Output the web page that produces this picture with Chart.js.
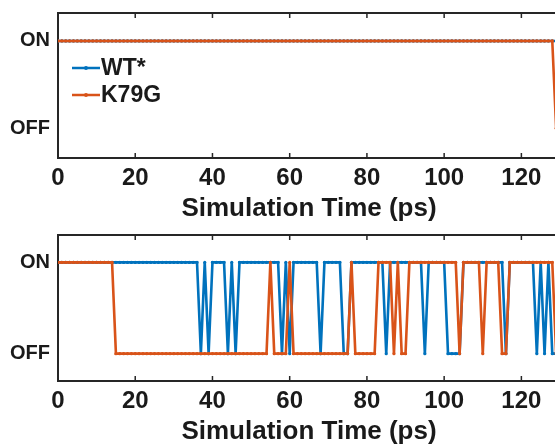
<!DOCTYPE html>
<html>
<head>
<meta charset="utf-8">
<script src="https://cdn.jsdelivr.net/npm/chart.js@4"></script>
<style>
  html, body { margin: 0; padding: 0; background: #fff; overflow: hidden; }
  #wrap { position: relative; width: 570px; height: 447px; }
  canvas { display: block; }
</style>
</head>
<body>
<div id="wrap">
  <canvas id="topChart" width="570" height="224"></canvas>
  <canvas id="bottomChart" width="570" height="223"></canvas>
</div>
<script>
// sample times (ps), one frame per ps
const timePs = Array.from({ length: 130 }, (_, i) => i);
const timeTicks = [0, 20, 40, 60, 80, 100, 120];

// state: 1 = ON, 0 = OFF
const stateTicks = [0, 1];
const stateLabels = ['OFF', 'ON'];

// top panel
const wtTop = [
  1, 1, 1, 1, 1, 1, 1, 1, 1, 1,
  1, 1, 1, 1, 1, 1, 1, 1, 1, 1,
  1, 1, 1, 1, 1, 1, 1, 1, 1, 1,
  1, 1, 1, 1, 1, 1, 1, 1, 1, 1,
  1, 1, 1, 1, 1, 1, 1, 1, 1, 1,
  1, 1, 1, 1, 1, 1, 1, 1, 1, 1,
  1, 1, 1, 1, 1, 1, 1, 1, 1, 1,
  1, 1, 1, 1, 1, 1, 1, 1, 1, 1,
  1, 1, 1, 1, 1, 1, 1, 1, 1, 1,
  1, 1, 1, 1, 1, 1, 1, 1, 1, 1,
  1, 1, 1, 1, 1, 1, 1, 1, 1, 1,
  1, 1, 1, 1, 1, 1, 1, 1, 1, 1,
  1, 1, 1, 1, 1, 1, 1, 1, 1, 1
];
const k79gTop = [
  1, 1, 1, 1, 1, 1, 1, 1, 1, 1,
  1, 1, 1, 1, 1, 1, 1, 1, 1, 1,
  1, 1, 1, 1, 1, 1, 1, 1, 1, 1,
  1, 1, 1, 1, 1, 1, 1, 1, 1, 1,
  1, 1, 1, 1, 1, 1, 1, 1, 1, 1,
  1, 1, 1, 1, 1, 1, 1, 1, 1, 1,
  1, 1, 1, 1, 1, 1, 1, 1, 1, 1,
  1, 1, 1, 1, 1, 1, 1, 1, 1, 1,
  1, 1, 1, 1, 1, 1, 1, 1, 1, 1,
  1, 1, 1, 1, 1, 1, 1, 1, 1, 1,
  1, 1, 1, 1, 1, 1, 1, 1, 1, 1,
  1, 1, 1, 1, 1, 1, 1, 1, 1, 1,
  1, 1, 1, 1, 1, 1, 1, 1, 1, 0
];

// bottom panel
const wtBottom = [
  1, 1, 1, 1, 1, 1, 1, 1, 1, 1,
  1, 1, 1, 1, 1, 1, 1, 1, 1, 1,
  1, 1, 1, 1, 1, 1, 1, 1, 1, 1,
  1, 1, 1, 1, 1, 1, 1, 0, 1, 0,
  1, 1, 1, 1, 0, 1, 0, 1, 1, 1,
  1, 1, 1, 1, 1, 1, 1, 1, 0, 1,
  0, 1, 1, 1, 1, 1, 1, 1, 0, 1,
  1, 1, 1, 1, 0, 0, 1, 1, 1, 1,
  1, 1, 1, 1, 1, 0, 1, 1, 1, 1,
  1, 1, 1, 1, 1, 0, 1, 1, 1, 1,
  1, 0, 0, 0, 0, 1, 1, 1, 1, 1,
  1, 1, 1, 1, 1, 1, 0, 1, 1, 1,
  1, 1, 1, 1, 0, 1, 0, 1, 0, 0
];
const k79gBottom = [
  1, 1, 1, 1, 1, 1, 1, 1, 1, 1,
  1, 1, 1, 1, 1, 0, 0, 0, 0, 0,
  0, 0, 0, 0, 0, 0, 0, 0, 0, 0,
  0, 0, 0, 0, 0, 0, 0, 0, 0, 0,
  0, 0, 0, 0, 0, 0, 0, 0, 0, 0,
  0, 0, 0, 0, 0, 1, 0, 0, 0, 0,
  1, 0, 0, 0, 0, 0, 0, 0, 0, 0,
  0, 0, 0, 0, 0, 0, 1, 0, 0, 0,
  0, 0, 0, 1, 1, 1, 1, 0, 1, 0,
  0, 1, 1, 1, 1, 1, 1, 1, 1, 1,
  1, 1, 1, 1, 0, 1, 1, 1, 1, 1,
  0, 1, 1, 1, 1, 0, 0, 1, 1, 1,
  1, 1, 1, 1, 1, 1, 1, 1, 1, 0
];

const BLUE = '#0072BD';
const ORANGE = '#D95319';
const AXIS = '#262626';
const TEXT = '#1a1a1a';
const FONT = "Arial, 'Liberation Sans', sans-serif";

// MATLAB style ticks pointing into the plot box
const insideTicks = {
  id: 'insideTicks',
  afterDraw(chart) {
    const ctx = chart.ctx;
    const area = chart.chartArea;
    const xs = chart.scales.x;
    ctx.save();
    ctx.strokeStyle = AXIS;
    ctx.lineWidth = 1.5;
    xs.ticks.forEach(t => {
      if (t.value === 0) return;
      const px = xs.getPixelForValue(t.value);
      ctx.beginPath();
      ctx.moveTo(px, area.bottom);
      ctx.lineTo(px, area.bottom - 5);
      ctx.moveTo(px, area.top);
      ctx.lineTo(px, area.top + 5);
      ctx.stroke();
    });
    ctx.restore();
  }
};

// legend drawn inside the plot area, no box
const innerLegend = {
  id: 'innerLegend',
  afterDraw(chart, args, opts) {
    if (!opts.show) return;
    const ctx = chart.ctx;
    ctx.save();
    chart.data.datasets.forEach((ds, i) => {
      const y = opts.y + i * opts.rowGap;
      ctx.strokeStyle = ds.borderColor;
      ctx.lineWidth = 2.5;
      ctx.beginPath();
      ctx.moveTo(opts.x, y);
      ctx.lineTo(opts.x + 28, y);
      ctx.stroke();
      ctx.fillStyle = ds.borderColor;
      ctx.beginPath();
      ctx.arc(opts.x + 14, y, 2, 0, Math.PI * 2);
      ctx.fill();
      ctx.fillStyle = TEXT;
      ctx.font = 'bold 23px ' + FONT;
      ctx.textBaseline = 'middle';
      ctx.fillText(ds.label, opts.x + 29, y + 1);
    });
    ctx.restore();
  }
};

function makeChart(id, wtValues, k79gValues, yMin, yMax, topPad, showLegend) {
  const toPoints = vals => timePs.map((t, i) => ({ x: t, y: vals[i] }));
  return new Chart(document.getElementById(id), {
    type: 'line',
    data: {
      datasets: [
        // K79G plotted second in the original, so it sits on top
        { label: 'WT*', data: toPoints(wtValues), borderColor: BLUE, backgroundColor: BLUE, order: 2 },
        { label: 'K79G', data: toPoints(k79gValues), borderColor: ORANGE, backgroundColor: ORANGE, order: 1 }
      ]
    },
    options: {
      responsive: false,
      animation: false,
      layout: { padding: { left: 0, right: 10, top: 0, bottom: 0 } },
      elements: {
        line: { borderWidth: 2.6, tension: 0 },
        point: { radius: 1.6, borderWidth: 0, hoverRadius: 1.6 }
      },
      plugins: {
        legend: { display: false },
        tooltip: { enabled: false },
        innerLegend: { show: showLegend, x: 72, y: 68, rowGap: 27 }
      },
      scales: {
        x: {
          type: 'linear',
          position: 'bottom',
          min: 0,
          max: 130,
          afterBuildTicks: s => { s.ticks = timeTicks.map(v => ({ value: v })); },
          ticks: { maxRotation: 0, autoSkip: false, padding: 6, color: TEXT,
                   font: { family: FONT, size: 24, weight: 'bold' } },
          grid: { drawOnChartArea: false, drawTicks: false },
          border: { display: true, color: AXIS, width: 2 },
          title: { display: true, text: 'Simulation Time (ps)', color: TEXT, padding: 0,
                   font: { family: FONT, size: 26, weight: 'bold' } },
          afterFit: s => { s.height = 66; s.paddingLeft = 0; s.paddingRight = 0; }
        },
        x2: {
          type: 'linear',
          position: 'top',
          min: 0,
          max: 130,
          ticks: { display: false },
          grid: { drawOnChartArea: false, drawTicks: false },
          border: { display: true, color: AXIS, width: 2 },
          afterFit: s => { s.height = topPad; s.paddingLeft = 0; s.paddingRight = 0; }
        },
        y: {
          min: yMin,
          max: yMax,
          afterBuildTicks: s => { s.ticks = stateTicks.map(v => ({ value: v })); },
          ticks: { padding: 8, color: TEXT,
                   callback: v => stateLabels[stateTicks.indexOf(v)],
                   font: { family: FONT, size: 20, weight: 'bold' } },
          grid: { drawOnChartArea: false, drawTicks: false },
          border: { display: true, color: AXIS, width: 2 },
          afterFit: s => { s.width = 58; s.paddingTop = 0; s.paddingBottom = 0; }
        }
      }
    },
    plugins: [insideTicks, innerLegend]
  });
}

makeChart('topChart', wtTop, k79gTop, -0.34, 1.32, 13, true);
makeChart('bottomChart', wtBottom, k79gBottom, -0.3, 1.3, 11, false);
</script>
</body>
</html>
